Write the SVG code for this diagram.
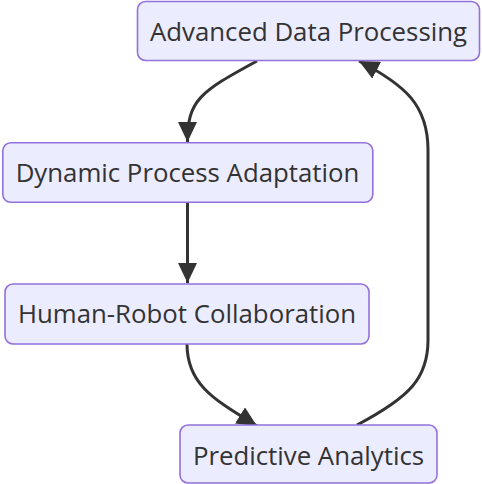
<svg xmlns="http://www.w3.org/2000/svg" width="482" height="484" viewBox="0 0 482 484">
<style>
.node rect{fill:#ECECFF;stroke:#9370DB;stroke-width:1.6}
.node text{font-family:"Open Sans","Noto Sans",sans-serif;font-size:25.8px;fill:#333333;text-anchor:middle}
.edge{fill:none;stroke:#333333;stroke-width:3;marker-end:url(#arrow)}
</style>
<defs>
<marker id="arrow" viewBox="0 0 10 10" refX="10" refY="5" markerUnits="userSpaceOnUse" markerWidth="20" markerHeight="19" orient="auto" preserveAspectRatio="none">
<path d="M0,0 L10,5 L0,10 z" fill="#333333"/>
</marker>
</defs>
<rect width="482" height="484" fill="#ffffff"/>
<g id="connectors">
<path class="edge" d="M257,61 C200,92 187.5,100 187.5,142"/>
<path class="edge" d="M187.5,202 L187.5,283"/>
<path class="edge" d="M187,344 C187,385 215,400 257,426"/>
<path class="edge" d="M357,425 C410,397 428,378 428,340 L428,150 C428,105 405,85 359,61"/>
</g>
<g id="node-advanced" class="node">
<rect x="137.5" y="1.5" width="342" height="59" rx="8"/>
<text x="308.5" y="40.5">Advanced Data Processing</text>
</g>
<g id="node-dynamic" class="node">
<rect x="2.8" y="142.8" width="370" height="59.5" rx="8"/>
<text x="187.5" y="182">Dynamic Process Adaptation</text>
</g>
<g id="node-human" class="node">
<rect x="5" y="284" width="364" height="60" rx="8"/>
<text x="187" y="323">Human-Robot Collaboration</text>
</g>
<g id="node-predictive" class="node">
<rect x="180" y="425" width="257" height="58" rx="8"/>
<text x="308.5" y="464.5">Predictive Analytics</text>
</g>
</svg>
